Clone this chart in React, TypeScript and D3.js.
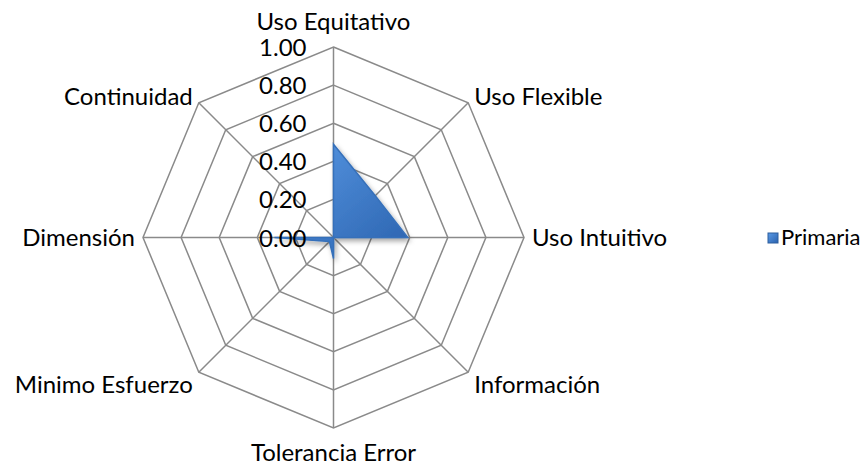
import React from "react";
import * as d3 from "d3";

const categories = [
  "Uso Equitativo",
  "Uso Flexible",
  "Uso Intuitivo",
  "Información",
  "Tolerancia Error",
  "Minimo Esfuerzo",
  "Dimensión",
  "Continuidad",
];
const primaria = [0.49, 0.31, 0.39, 0, 0.11, 0.03, 0.31, 0];
const ticks = [0, 0.2, 0.4, 0.6, 0.8, 1.0];
const seriesName = "Primaria";

const width = 866;
const height = 465;
const cx = 333.5;
const cy = 237.5;
const radius = 190.5;
const font = "Lato, 'Open Sans', sans-serif";
const fontSize = 24;

export default function App() {
  const r = d3.scaleLinear().domain([0, 1]).range([0, radius]);
  const angle = d3
    .scalePoint<string>()
    .domain(categories)
    .range([0, (2 * Math.PI * (categories.length - 1)) / categories.length]);

  const pt = (cat: string, v: number): [number, number] => {
    const a = (angle(cat) as number) - Math.PI / 2;
    return [cx + r(v) * Math.cos(a), cy + r(v) * Math.sin(a)];
  };

  const ring = (v: number) =>
    categories.map((c) => pt(c, v).join(",")).join(" ");

  const area = d3
    .lineRadial<number>()
    .angle((d, i) => angle(categories[i]) as number)
    .radius((d) => r(d))
    .curve(d3.curveLinearClosed);

  // label placement around the outer ring
  const labelPos = (cat: string) => {
    const [x, y] = pt(cat, 1);
    const a = angle(cat) as number;
    const s = Math.round(Math.sin(a) * 100) / 100;
    const c = Math.round(Math.cos(a) * 100) / 100;
    let anchor = "middle";
    let dx = 0;
    let dy = 0;
    if (s > 0.1) anchor = "start";
    if (s < -0.1) anchor = "end";
    if (Math.abs(s) < 0.1) {
      dy = c > 0 ? -17 : 33;
    } else if (Math.abs(c) < 0.1) {
      dx = s > 0 ? 8 : -8;
      dy = 8;
    } else {
      dx = s > 0 ? 6 : -6;
      dy = c > 0 ? 2 : 21;
    }
    return { x: x + dx, y: y + dy, anchor };
  };

  return (
    <svg width={width} height={height} style={{ position: "absolute", left: 0, top: 0 }}>
      <defs>
        <linearGradient id="fillGrad" x1="0" y1="0" x2="1" y2="1">
          <stop offset="0%" stopColor="#5A9AE6" />
          <stop offset="100%" stopColor="#2A62AE" />
        </linearGradient>
        <filter id="shadow" x="-30%" y="-30%" width="160%" height="160%">
          <feDropShadow dx="2" dy="3" stdDeviation="2.5" floodColor="#000" floodOpacity="0.35" />
        </filter>
      </defs>
      <rect width={width} height={height} fill="#fff" />
      <g fill="none" stroke="#8A8A8A" strokeWidth={1.5}>
        {ticks.slice(1).map((t) => (
          <polygon key={t} points={ring(t)} />
        ))}
        {categories.map((c) => {
          const [x, y] = pt(c, 1);
          return <line key={c} x1={cx} y1={cy} x2={x} y2={y} />;
        })}
      </g>
      <path
        d={area(primaria) as string}
        transform={`translate(${cx},${cy})`}
        fill="url(#fillGrad)"
        stroke="#3670BA"
        strokeWidth={1.5}
        strokeLinejoin="miter"
        filter="url(#shadow)"
      />
      <g fontFamily={font} fontSize={fontSize} fill="#000">
        {ticks.map((t) => (
          <text key={t} x={cx - 27} y={cy - r(t) + 9} textAnchor="end">
            {t.toFixed(2)}
          </text>
        ))}
        {categories.map((c) => {
          const p = labelPos(c);
          return (
            <text key={c} x={p.x} y={p.y} textAnchor={p.anchor}>
              {c}
            </text>
          );
        })}
        <rect x={768} y={233} width={10} height={10} fill="url(#fillGrad)" stroke="#2C5E9E" strokeWidth={1} />
        <text x={781} y={245} fontSize={22}>
          {seriesName}
        </text>
      </g>
    </svg>
  );
}
